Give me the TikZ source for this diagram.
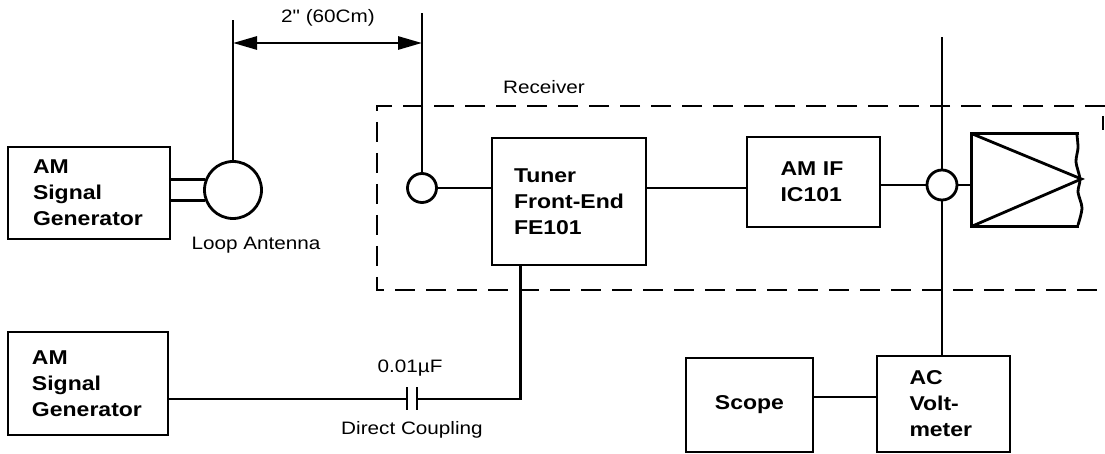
\documentclass[tikz,border=0pt]{standalone}
\usepackage{fontspec}
\setmainfont{Liberation Sans}[FakeStretch=1.15]
\usetikzlibrary{arrows.meta,calc}
\begin{document}
\begin{tikzpicture}[x=0.5pt,y=-0.5pt, line width=1.4pt,
  box/.style={draw, rectangle, inner sep=0pt, align=left, font=\bfseries\fontsize{10}{13}\selectfont},
  lbl/.style={inner sep=0pt, font=\fontsize{9}{11}\selectfont},
  port/.style={draw, circle, inner sep=0pt, fill=white},
  frame/.style={dash pattern=on 10pt off 5.5pt, line width=1.4pt},
  arr/.style={{Triangle[length=12pt,width=6.5pt]}-{Triangle[length=12pt,width=6.5pt]}}]
\useasboundingbox (0,0) rectangle (1105,454);

% receiver frame
\draw[frame] (1105,106) -- (377,106) -- (377,290) -- (1105,290);
\draw (1103,116) -- (1103,130);

% nodes
\node[box, minimum width=81pt, minimum height=46pt, text width=56pt] (sg1) at (89,193) {AM\\Signal\\Generator};
\node[box, minimum width=80pt, minimum height=51.5pt, text width=56pt] (sg2) at (88,383.5) {AM\\Signal\\Generator};
\node[port, minimum size=28.5pt] (loop) at (233,190) {};
\node[port, minimum size=14.5pt] (ant) at (422,188) {};
\node[box, minimum width=77pt, minimum height=63.5pt, text width=55pt] (tuner) at (569,201.5) {Tuner\\Front-End\\FE101};
\node[box, minimum width=66.5pt, minimum height=45pt, text width=33pt] (amif) at (813.5,182) {AM IF\\IC101};
\node[port, minimum size=15pt] (det) at (942,185) {};
\node[inner sep=0pt, minimum width=52.5pt, minimum height=45pt] (amp) at (1025.5,180) {};
\node[box, minimum width=63.5pt, minimum height=47pt] (scope) at (749.5,405) {Scope};
\node[box, minimum width=66.5pt, minimum height=48pt, text width=34pt] (acv) at (943.5,404) {AC\\Volt-\\meter};

% labels
\node[lbl] (dist) at (328,18) {\addfontfeatures{Ligatures=TeXOff}2" (60Cm)};
\node[lbl] (rx) at (544,87) {Receiver};
\node[lbl] (loopl) at (256,245) {Loop Antenna};
\node[lbl] (capv) at (410,368) {0.01µF};
\node[lbl] (dc) at (412,430) {Direct Coupling};

% coordinates
\coordinate (a1top) at (233,20);
\coordinate (a2top) at (422,13);
\coordinate (arL) at (233,43);
\coordinate (arR) at (422,43);
\coordinate (vtop) at (942,37);
\coordinate (capL) at (407,399);
\coordinate (capR) at (417,399);

% amplifier symbol
\draw (amp.north east) -- (amp.north west) -- (amp.south west) -- (amp.south east);
\draw (amp.north west) -- ($(amp.east)+(2,-1)$) -- (amp.south west);
\draw plot[smooth] coordinates {(1077,135) (1078,148) (1076,162) (1080,179) (1078,192) (1082,208) (1078,225)};

% connectors
\draw (loop.north) -- (a1top);
\draw (ant.north) -- (a2top);
\draw[arr] (arL) -- (arR);
\draw (sg1.east |- loop.159) -- (loop.159);
\draw (sg1.east |- loop.201) -- (loop.201);
\draw (ant.east) -- (ant.east -| tuner.west);
\draw (ant.east -| tuner.east) -- (ant.east -| amif.west);
\draw (det.west -| amif.east) -- (det.west);
\draw (det.east) -- (det.east -| amp.west);
\draw (det.north) -- (vtop);
\draw (det.south) -- (det.south |- acv.north);
\draw (capL -| sg2.east) -- (capL);
\draw ($(capL)+(0,-11.5)$) -- ($(capL)+(0,11.5)$);
\draw ($(capR)+(0,-11.5)$) -- ($(capR)+(0,11.5)$);
\draw (capR) -| ([xshift=15pt]tuner.south west);
\draw ([yshift=4pt]scope.east) -- ([yshift=4pt]scope.east -| acv.west);
\end{tikzpicture}
\end{document}
